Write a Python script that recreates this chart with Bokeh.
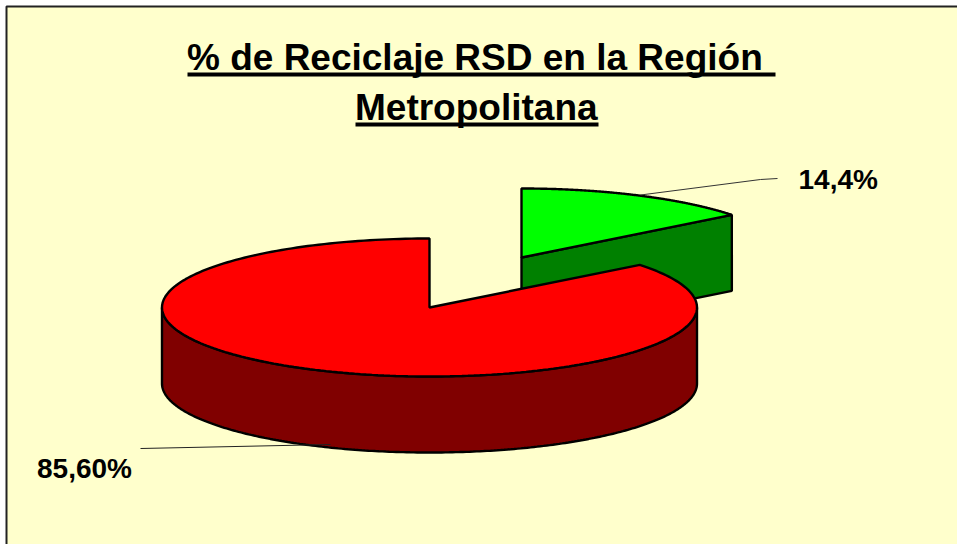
import numpy as np
from bokeh.core.properties import value
from bokeh.embed import file_html
from bokeh.models import Range1d
from bokeh.plotting import figure
from bokeh.resources import INLINE

# data
categories = ["Reciclado", "No reciclado"]
shares = [14.4, 85.6]
slice_labels = ["14,4%", "85,60%"]
title_lines = ["% de Reciclaje RSD en la Región ", "Metropolitana"]

# layout (page pixels)
W, H = 957, 544
RX, RY, DEPTH = 267.5, 69, 76
RED_C = (429, 307)
GREEN_C = (521, 257)
FONT = value("Liberation Sans")
OUT = 2.4

p = figure(
    width=W, height=H, output_backend="svg", toolbar_location=None,
    x_range=Range1d(0, W), y_range=Range1d(H, 0),
    x_axis_location=None, y_axis_location=None, min_border=0,
    background_fill_color="#FFFFFF", border_fill_color="#FFFFFF",
    outline_line_color=None, tools="",
)
p.grid.visible = False

# chart area and its frame: only the left and top edges reach the page
p.quad(left=[6], right=[W], top=[6], bottom=[H], fill_color="#FFFFCC", line_color=None)
p.line([6, 6, W], [H, 6, 6], line_color="#222222", line_width=2)


def rim(center, start_deg, end_deg, n=240):
    """Points on the ellipse; angle is clockwise from 12 o'clock."""
    t = np.radians(np.linspace(start_deg, end_deg, n))
    return center[0] + RX * np.sin(t), center[1] - RY * np.cos(t)


green_angle = shares[0] / sum(shares) * 360

# green slice: side face, then top
gx, gy = rim(GREEN_C, 0, green_angle)
p.patch([GREEN_C[0], gx[-1], gx[-1], GREEN_C[0]],
        [GREEN_C[1], gy[-1], gy[-1] + DEPTH, GREEN_C[1] + DEPTH],
        fill_color="#008000", line_color="black", line_width=OUT)
p.patch([GREEN_C[0], *gx], [GREEN_C[1], *gy],
        fill_color="#00FF00", line_color="black", line_width=OUT)

# red slice: outer wall (front half of the rim), then top
wx, wy = rim(RED_C, 90, 270)
p.patch([*wx, *wx[::-1]], [*wy, *(wy[::-1] + DEPTH)],
        fill_color="#800000", line_color="black", line_width=OUT)
rx, ry = rim(RED_C, green_angle, 360)
p.patch([RED_C[0], *rx], [RED_C[1], *ry],
        fill_color="#FF0000", line_color="black", line_width=OUT)

# leader lines
p.line([640, 760, 777], [194.5, 179, 178], line_color="#333333", line_width=1)
p.line([140, 330], [448, 444], line_color="#222222", line_width=1)


def label(x, baseline, text, size):
    p.text([x], [baseline - 0.37 * size], text=[text], text_font=FONT, text_font_style="bold",
           text_font_size=f"{size}px", text_color="black", text_align="left",
           text_baseline="alphabetic")


label(798, 189, slice_labels[0], 28)
label(36.5, 478, slice_labels[1], 28)

# title with underlines
label(186.5, 71, title_lines[0], 37)
label(354.5, 120.5, title_lines[1], 37)
p.line([187, 775], [74, 74], line_color="black", line_width=4)
p.line([355, 598], [124, 124], line_color="black", line_width=4)

open("out.html", "w").write(file_html(p, INLINE))
